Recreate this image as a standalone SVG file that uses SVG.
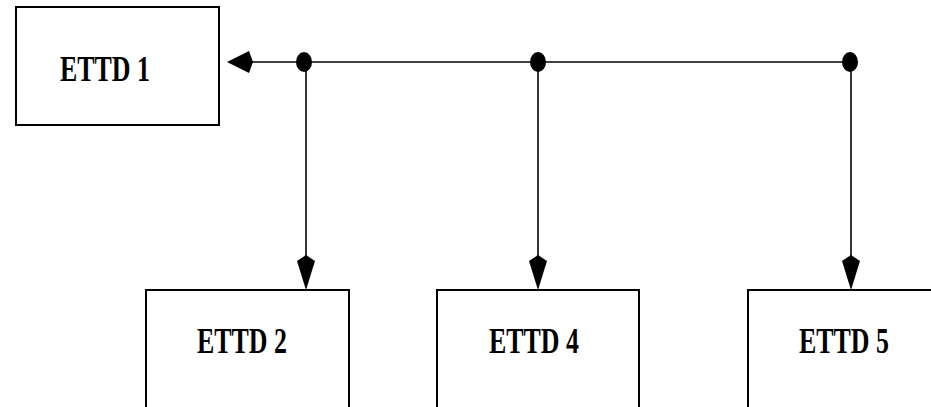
<svg xmlns="http://www.w3.org/2000/svg" width="931" height="407" viewBox="0 0 931 407">
  <style>
    .box { fill: #fff; stroke: #000; stroke-width: 2; }
    .label { font-family: "Liberation Serif", "Times New Roman", serif; font-weight: bold; font-size: 35px; fill: #000; }
    .wire { stroke: #000; stroke-width: 1.6; fill: none; }
    .dot { fill: #000; }
    .head { fill: #000; }
  </style>
  <rect width="931" height="407" fill="#fff"/>

  <g id="ettd1">
    <rect class="box" x="16" y="7" width="203" height="118"/>
    <text class="label" x="60" y="81" textLength="90" lengthAdjust="spacingAndGlyphs">ETTD 1</text>
  </g>
  <g id="ettd2">
    <rect class="box" x="146" y="290" width="203" height="130"/>
    <text class="label" x="197" y="353" textLength="90" lengthAdjust="spacingAndGlyphs">ETTD 2</text>
  </g>
  <g id="ettd4">
    <rect class="box" x="437" y="290" width="202" height="130"/>
    <text class="label" x="489" y="353" textLength="90" lengthAdjust="spacingAndGlyphs">ETTD 4</text>
  </g>
  <g id="ettd5">
    <rect class="box" x="748" y="290" width="200" height="130"/>
    <text class="label" x="799" y="353" textLength="90" lengthAdjust="spacingAndGlyphs">ETTD 5</text>
  </g>

  <g id="connectors">
    <!-- bus line -->
    <line class="wire" x1="252" y1="62" x2="851" y2="62"/>
    <!-- drops -->
    <line class="wire" x1="306" y1="62" x2="306" y2="258"/>
    <line class="wire" x1="538" y1="62" x2="538" y2="258"/>
    <line class="wire" x1="851" y1="62" x2="851" y2="258"/>
    <!-- junction dots -->
    <ellipse class="dot" cx="304" cy="62" rx="8" ry="10"/>
    <ellipse class="dot" cx="538" cy="62" rx="8" ry="10"/>
    <ellipse class="dot" cx="850" cy="62" rx="8" ry="10"/>
    <!-- arrowheads -->
    <polygon class="head" points="227,62 249,51 253,62 249,73"/>
    <polygon class="head" points="306,290 297,261 306,255 315,261"/>
    <polygon class="head" points="538,290 529,261 538,255 547,261"/>
    <polygon class="head" points="851,290 842,261 851,255 860,261"/>
  </g>
</svg>
